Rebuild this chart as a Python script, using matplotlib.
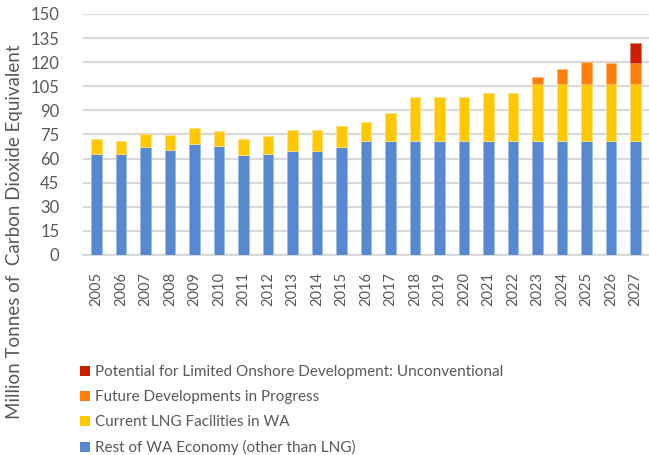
import numpy as np
import matplotlib
matplotlib.use("Agg")
import matplotlib.pyplot as plt
from matplotlib.patches import Patch

plt.rcParams['font.family'] = ['Lato', 'DejaVu Sans']

years = [str(y) for y in range(2005, 2028)]
rest_wa = [63, 63, 67, 65.5, 69, 68, 62.5, 63, 65, 64.5, 67.5, 71,
           71, 71, 71, 71, 71, 71, 71, 71, 71, 71, 71]
current_lng = [9, 8, 8.5, 9, 10, 9, 9.5, 11, 13, 13, 12.5, 11.5,
               17.5, 27.5, 27.5, 27.5, 30, 30, 35.5, 35.5, 35.5, 35.5, 35.5]
future_dev = [0, 0, 0, 0, 0, 0, 0, 0, 0, 0, 0, 0,
              0, 0, 0, 0, 0, 0, 4.5, 9, 13.5, 13, 13]
unconventional = [0] * 22 + [12.5]

series = [
    ("Rest of WA Economy (other than LNG)", rest_wa, "#5689CF", "#9DBBE4"),
    ("Current LNG Facilities in WA", current_lng, "#FFC800", "#FFE080"),
    ("Future Developments in Progress", future_dev, "#FF7F0A", "#FFB878"),
    ("Potential for Limited Onshore Development: Unconventional",
     unconventional, "#CC1F00", "#E07A66"),
]

text_gray = "#595959"
grid_gray = "#D9D9D9"

fig = plt.figure(figsize=(6.49, 4.55), dpi=100)
ax = fig.add_axes([0.128, 0.4396, 0.872, 0.5297])

x = np.arange(len(years))
bottom = np.zeros(len(years))
for label, vals, color, edge in series:
    vals = np.array(vals, dtype=float)
    keep = vals > 0
    ax.bar(x[keep], vals[keep], width=0.42, bottom=bottom[keep], color=color,
           edgecolor=edge, linewidth=0.6, label=label, zorder=3)
    bottom += vals

ax.set_xlim(-0.55, len(years) - 0.45)
ax.set_ylim(0, 150)
ax.set_yticks(np.arange(0, 151, 15))
ax.set_xticks(x)
ax.set_xticklabels(years, rotation=90)
ax.tick_params(axis='both', length=0, colors=text_gray)
ax.tick_params(axis='x', pad=12, labelsize=10.5)
ax.tick_params(axis='y', pad=17, labelsize=12)
ax.yaxis.grid(True, color=grid_gray, linewidth=1.6, zorder=0)
for s in ['top', 'right', 'left']:
    ax.spines[s].set_visible(False)
ax.spines['bottom'].set_color(grid_gray)
ax.spines['bottom'].set_linewidth(1.6)

fig.text(0.023, 0.49, "Million Tonnes of  Carbon Dioxide Equivalent",
         rotation=90, ha='center', va='center', fontsize=13.5, color=text_gray)

handles = [Patch(facecolor=c, edgecolor='none') for _, _, c, _ in series][::-1]
labels = [s[0] for s in series][::-1]
fig.legend(handles, labels, loc='upper left', bbox_to_anchor=(0.124, 0.197),
           frameon=False, fontsize=11, labelcolor=text_gray,
           handlelength=0.6, handleheight=0.6, handletextpad=0.35,
           labelspacing=0.72, borderpad=0, borderaxespad=0)

fig.savefig("out.png", dpi=100)
